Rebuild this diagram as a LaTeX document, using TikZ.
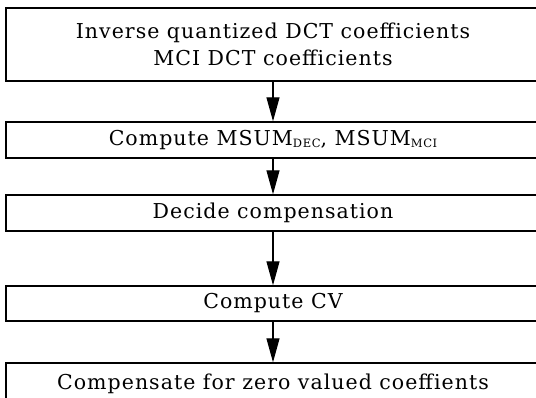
\documentclass[tikz,border=0pt]{standalone}
\usepackage{fontspec}
\setmainfont{DejaVu Serif}[LetterSpace=5]
\usetikzlibrary{arrows.meta}

\newcommand{\lowsub}[1]{\raisebox{-2.5pt}{\fontsize{11.5}{12}\selectfont #1}}

\begin{document}
\begin{tikzpicture}[
		x=1pt, y=-1pt,
		every node/.style={font=\fontsize{20.5}{27.5}\selectfont},
		box/.style={rectangle, draw, line width=1.4pt, minimum width=534pt, inner sep=0pt, align=center},
		arr/.style={-{Triangle[length=24pt, width=13pt]}, line width=1.2pt}
	]
  \useasboundingbox (0,0) rectangle (536,398);
  \clip (0,0) rectangle (536,398);
  \node (coeffs) [box, minimum height=73pt] at (273, 44.5) {Inverse quantized DCT coefficients\\MCI DCT coefficients};
  \node (msum) [box, minimum height=36pt] at (273, 140) {Compute MSUM\lowsub{DEC}, MSUM\lowsub{MCI}};
  \node (decide) [box, minimum height=36pt] at (273, 213) {Decide compensation};
  \node (cv) [box, minimum height=35pt] at (273, 303.5) {Compute CV};
  \node (comp) [box, minimum height=42pt] at (273, 384) {Compensate for zero valued coeffients};
  \draw [arr] (coeffs) -- (msum);
  \draw [arr] (msum) -- (decide);
  \draw [arr] (decide) -- (cv);
  \draw [arr] (cv) -- (comp);
\end{tikzpicture}
\end{document}
